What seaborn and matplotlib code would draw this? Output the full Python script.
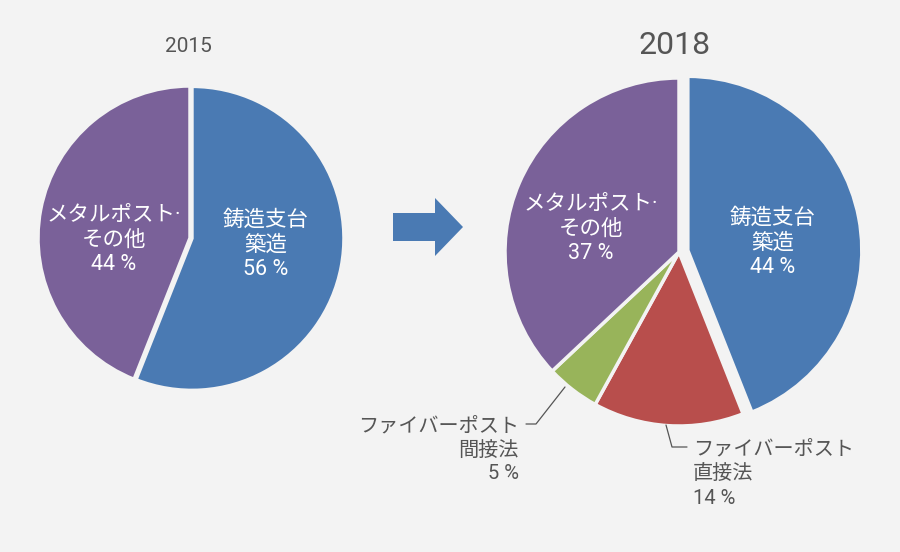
import matplotlib
matplotlib.use("Agg")
import matplotlib.pyplot as plt
import seaborn as sns
from matplotlib.patches import Polygon

# data
years = ["2015", "2018"]
labels_2015 = ["鋳造支台\n築造", "メタルポスト·\nその他"]
values_2015 = [56, 44]
labels_2018 = ["鋳造支台\n築造", "ファイバーポスト\n直接法", "ファイバーポスト\n間接法", "メタルポスト·\nその他"]
values_2018 = [44, 14, 5, 37]

bg = "#f3f3f3"
grey = "#555555"
pal_2015 = ["#4a7ab3", "#7a6199"]
pal_2018 = ["#4a7ab3", "#b84e4c", "#98b45a", "#7a6199"]

sns.set_style("white")
plt.rcParams['font.family'] = ['Roboto', 'Noto Sans CJK JP', 'DejaVu Sans']

fig = plt.figure(figsize=(9, 5.52), dpi=100, facecolor=bg)
ax = fig.add_axes([0, 0, 1, 1])
ax.set_facecolor(bg)

# pixel coordinates, y downwards -> start at screen top, go clockwise
wp = dict(edgecolor=bg, linewidth=2.5)
ax.pie(values_2015, colors=pal_2015, startangle=-90, counterclock=True,
       center=(190, 238), radius=152, explode=[2, 0], wedgeprops=wp, frame=True)
ax.pie(values_2018, colors=pal_2018, startangle=-90, counterclock=True,
       center=(679, 252), radius=174, explode=[9, 0, 0, 0], wedgeprops=wp, frame=True)

ax.set_xlim(0, 900)
ax.set_ylim(552, 0)
ax.set_aspect('equal')
ax.axis('off')

# titles
ax.text(188, 47, years[0], ha='center', va='center', fontsize=15, color=grey)
ax.text(675, 45, years[1], ha='center', va='center', fontsize=23, color=grey)

# labels inside the slices
inner = dict(ha='center', va='center', fontsize=15.5, color='white', linespacing=1.22)
ax.text(266, 245, labels_2015[0] + "\n%d %%" % values_2015[0], **inner)
ax.text(114, 240, labels_2015[1] + "\n%d %%" % values_2015[1], **inner)
ax.text(773, 243, labels_2018[0] + "\n%d %%" % values_2018[0], **inner)
ax.text(591, 229, labels_2018[3] + "\n%d %%" % values_2018[3], **inner)

# outside labels with leader lines
ax.text(519, 450, labels_2018[2] + "\n%d %%" % values_2018[2], ha='right', va='center',
        fontsize=14.5, color=grey, linespacing=1.32, multialignment='right')
ax.plot([565, 536, 526], [387, 424, 424], color=grey, lw=0.9)
ax.text(693, 474, labels_2018[1] + "\n%d %%" % values_2018[1], ha='left', va='center',
        fontsize=14.5, color=grey, linespacing=1.4, multialignment='left')
ax.plot([666, 672, 687], [425, 447, 447], color=grey, lw=0.9)

# arrow between the pies
arrow = Polygon([(393, 213), (435, 213), (435, 198), (463, 227), (435, 256),
                 (435, 241), (393, 241)], closed=True, facecolor="#4a7ab3", edgecolor='none')
ax.add_patch(arrow)

fig.savefig("out.png", dpi=100, facecolor=bg)
